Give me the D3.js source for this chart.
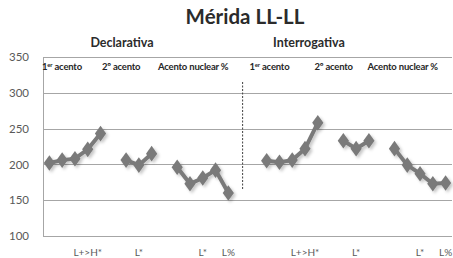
<!DOCTYPE html>
<html>
<head>
<meta charset="utf-8">
<script src="https://cdn.jsdelivr.net/npm/d3@7"></script>
<style>
  body { margin: 0; background: #fff; }
  svg { display: block; font-family: "Lato", "Open Sans", sans-serif; }
</style>
</head>
<body>
<svg id="grafico" width="453" height="258"></svg>
<script>
// categorias do eixo x (15 declarativa, 2 vazias, 15 interrogativa)
const categorias = [
  "d1", "d2", "d3", "d4", "d5", "d6", "d7", "d8", "d9", "d10", "d11", "d12", "d13", "d14", "d15",
  "sep", "vazio",
  "i1", "i2", "i3", "i4", "i5", "i6", "i7", "i8", "i9", "i10", "i11", "i12", "i13", "i14", "i15"
];
const rotulos_x = [
  "", "", "", "L+>H*", "", "", "", "L*", "", "", "", "", "L*", "", "L%",
  "", "",
  "", "", "", "L+>H*", "", "", "", "L*", "", "", "", "", "L*", "", "L%"
];
const declarativa = [202, 206, 208, 221, 243, null, 206, 199, 215, null, 196, 173, 181, 192, 160];
const interrogativa = [205, 203, 206, 222, 258, null, 233, 222, 233, null, 222, 199, 187, 173, 174];
const ticks_y = [100, 150, 200, 250, 300, 350];
const rotulos_topo = [
  {txt: "1", sup: "er", resto: " acento", cat: "d1"},
  {txt: "2º acento", cat: "d6"},
  {txt: "Acento nuclear %", cat: "d10"},
  {txt: "1", sup: "er", resto: " acento", cat: "vazio"},
  {txt: "2º acento", cat: "i5"},
  {txt: "Acento nuclear %", cat: "i9"}
];
// deslocamento horizontal de cada rotulo interno (px)
const desloc_topo = [-1, -5, 0, 2, 3, 5];

const svg = d3.select("#grafico");
const margin = {top: 57, right: 1, bottom: 22, left: 43};
const w = 453, h = 258;
const cinza_texto = "#595959";
const cor_linha = "#7a7a7a";

const x = d3.scaleBand()
  .domain(categorias)
  .range([margin.left, w - margin.right]);

const y = d3.scaleLinear()
  .domain([100, 350])
  .range([h - margin.bottom, margin.top]);

// sombra dos marcadores
const defs = svg.append("defs");
const sombra = defs.append("filter").attr("id", "sombra")
  .attr("x", "-50%").attr("y", "-50%").attr("width", "200%").attr("height", "200%");
sombra.append("feDropShadow")
  .attr("dx", 2).attr("dy", 2).attr("stdDeviation", 1.5)
  .attr("flood-color", "#000").attr("flood-opacity", 0.22);

// titulo
svg.append("text")
  .attr("x", 245).attr("y", 24)
  .attr("text-anchor", "middle")
  .attr("font-size", 20.5).attr("font-weight", "bold")
  .attr("fill", "#2b2b2b")
  .text("Mérida LL-LL");

svg.append("text")
  .attr("x", 122).attr("y", 47)
  .attr("text-anchor", "middle")
  .attr("font-size", 12.5).attr("font-weight", "bold")
  .attr("fill", "#2b2b2b")
  .text("Declarativa");

svg.append("text")
  .attr("x", 309).attr("y", 47)
  .attr("text-anchor", "middle")
  .attr("font-size", 12.5).attr("font-weight", "bold")
  .attr("fill", "#2b2b2b")
  .text("Interrogativa");

// grade
svg.append("g")
  .selectAll("line")
  .data(ticks_y)
  .join("line")
  .attr("x1", margin.left)
  .attr("x2", w - margin.right)
  .attr("y1", d => Math.round(y(d)) + 0.5)
  .attr("y2", d => Math.round(y(d)) + 0.5)
  .attr("stroke", "#a6a6a6")
  .attr("stroke-width", 1);

// eixo y
const eixo_y = d3.axisLeft(y).tickValues(ticks_y).tickSize(0).tickPadding(0);
const $eixo_y = svg.append("g")
  .attr("transform", "translate(" + 29 + ",0)")
  .call(eixo_y);
$eixo_y.select(".domain").remove();
$eixo_y.selectAll("text")
  .attr("font-size", 11.5)
  .attr("font-family", "Lato, sans-serif")
  .attr("fill", cinza_texto);

svg.append("line")
  .attr("x1", margin.left + 0.5).attr("x2", margin.left + 0.5)
  .attr("y1", y(350)).attr("y2", y(100))
  .attr("stroke", "#a6a6a6");

// eixo x (so rotulos)
svg.append("g")
  .selectAll("text")
  .data(categorias)
  .join("text")
  .attr("x", d => x(d) + x.bandwidth() / 2)
  .attr("y", 256)
  .attr("text-anchor", "middle")
  .attr("font-size", 10)
  .attr("fill", cinza_texto)
  .text((d, i) => rotulos_x[i]);

// separador tracejado
svg.append("line")
  .attr("x1", x("sep") + x.bandwidth() / 2 + 1.5)
  .attr("x2", x("sep") + x.bandwidth() / 2 + 1.5)
  .attr("y1", 82).attr("y2", 189)
  .attr("stroke", "#404040")
  .attr("stroke-width", 1)
  .attr("stroke-dasharray", "2,1.5");

// rotulos internos
const $topo = svg.append("g")
  .selectAll("text")
  .data(rotulos_topo)
  .join("text")
  .attr("x", (d, i) => x(d.cat) + desloc_topo[i])
  .attr("y", 70)
  .attr("font-size", 9.5)
  .attr("font-weight", "bold")
  .attr("letter-spacing", -0.2)
  .attr("fill", "#262626");
$topo.append("tspan").text(d => d.txt);
$topo.filter(d => d.sup).append("tspan")
  .attr("dy", -3).attr("font-size", 6).text(d => d.sup);
$topo.filter(d => d.resto).append("tspan")
  .attr("dy", 3).text(d => d.resto);

// series
const series = [
  {nome: "declarativa", valores: declarativa, inicio: 0},
  {nome: "interrogativa", valores: interrogativa, inicio: 17}
];

const linha = d3.line()
  .defined(d => d.v !== null)
  .x(d => x(d.cat) + x.bandwidth() / 2)
  .y(d => y(d.v));

const diamante = d3.symbol().type(d3.symbolDiamond).size(70);

for (const s of series) {
  const pontos = s.valores.map((v, i) => ({cat: categorias[s.inicio + i], v: v}));
  const g = svg.append("g").attr("filter", "url(#sombra)");
  g.append("path")
    .datum(pontos)
    .attr("d", linha)
    .attr("fill", "none")
    .attr("stroke", cor_linha)
    .attr("stroke-width", 4);
  g.selectAll("path.marca")
    .data(pontos.filter(d => d.v !== null))
    .join("path")
    .attr("class", "marca")
    .attr("d", diamante)
    .attr("transform", d => "translate(" + (x(d.cat) + x.bandwidth() / 2) + "," + y(d.v) + ") scale(1.25,1)")
    .attr("fill", cor_linha);
}
</script>
</body>
</html>
